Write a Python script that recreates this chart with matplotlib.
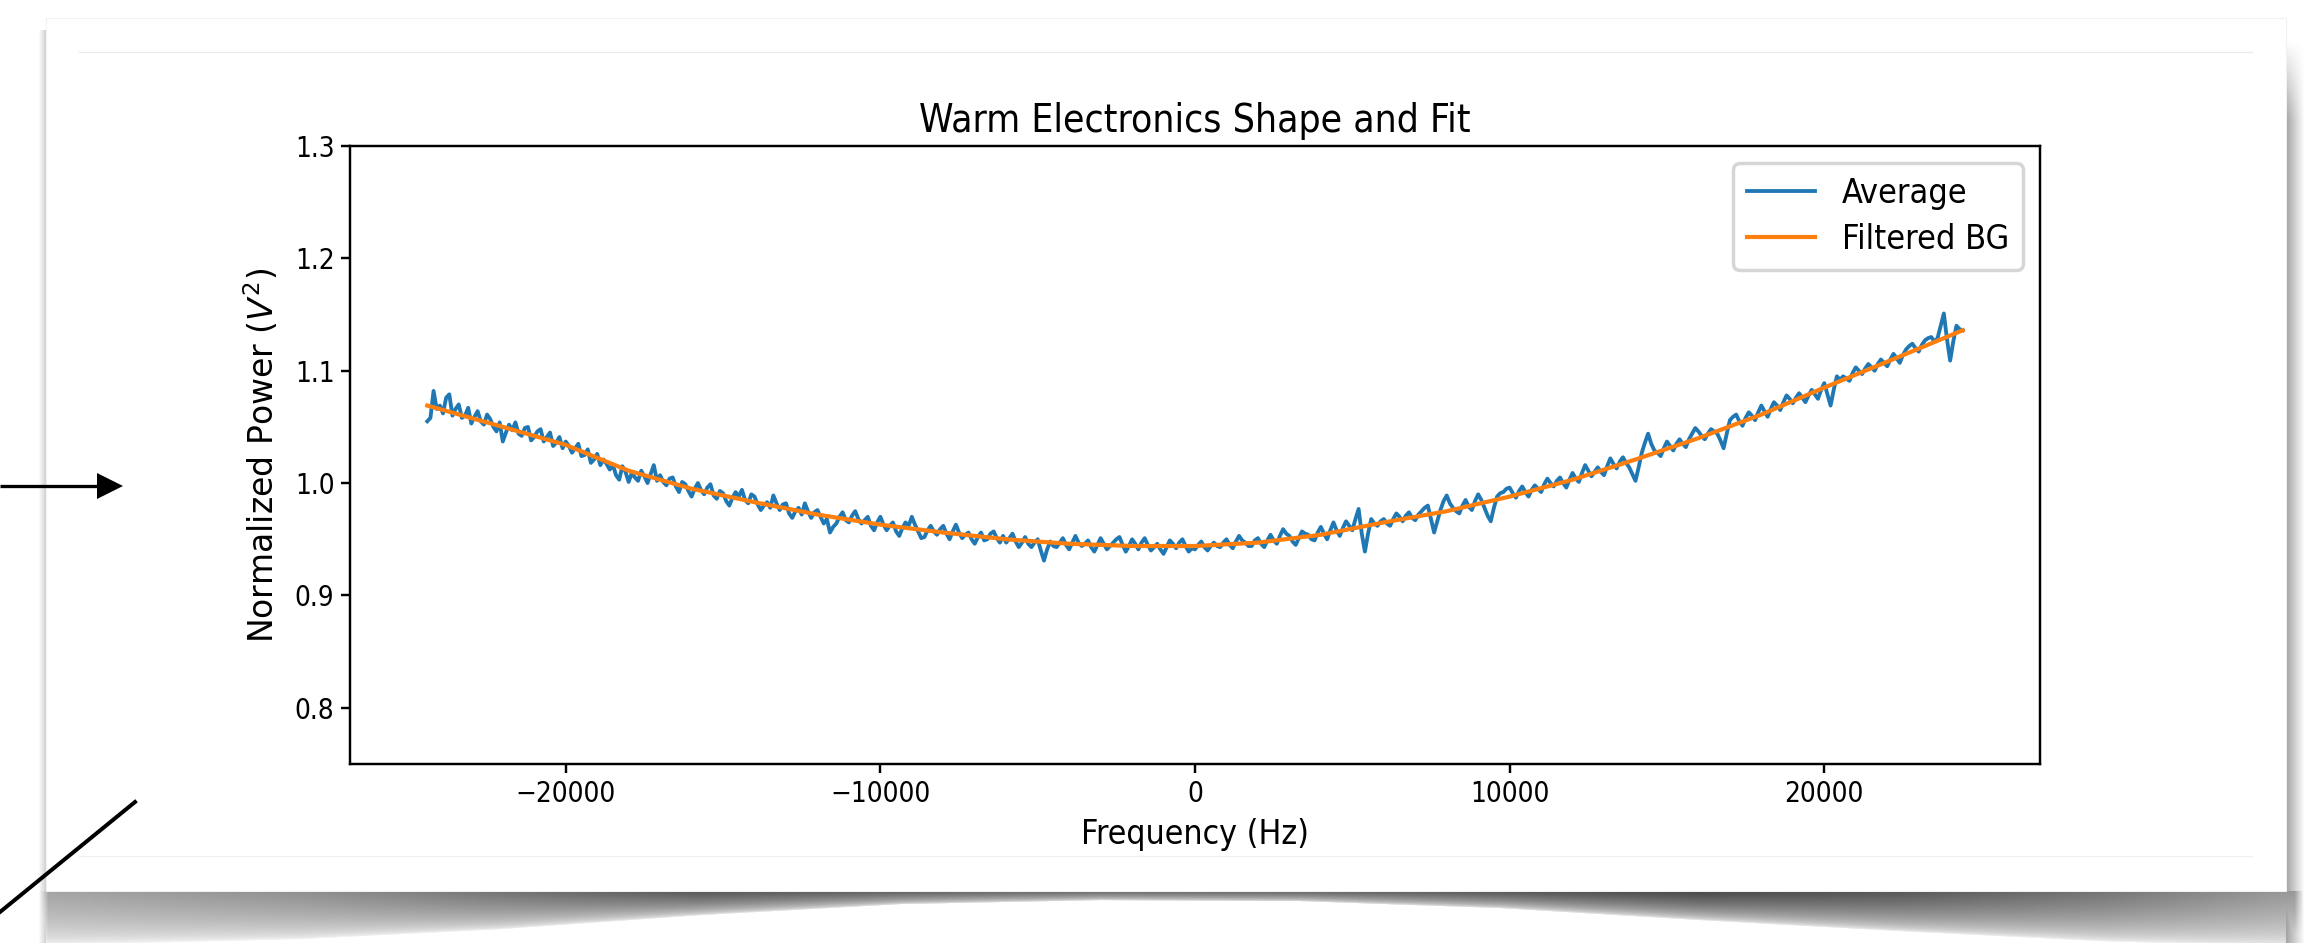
import numpy as np
import matplotlib
matplotlib.use("Agg")
import matplotlib.pyplot as plt
from matplotlib.patches import Rectangle, Polygon

# ---------------- data ----------------
freq_hz = np.arange(-244, 245) * 100.0   # -24400 ... 24400 Hz, 100 Hz bins

average = [
    # -24.4 .. -22.1 kHz
    1.055, 1.058, 1.082, 1.066, 1.069, 1.062, 1.076, 1.079, 1.060, 1.066,
    1.070, 1.058, 1.060, 1.067, 1.053, 1.059, 1.064, 1.055, 1.052, 1.061,
    1.057, 1.050, 1.046, 1.054,
    # -22.0 .. -20.1
    1.037, 1.045, 1.052, 1.047, 1.054, 1.044, 1.042, 1.049, 1.050, 1.038,
    1.041, 1.046, 1.048, 1.037, 1.041, 1.045, 1.033, 1.036, 1.041, 1.031,
    # -20.0 .. -18.1
    1.037, 1.033, 1.027, 1.031, 1.035, 1.024, 1.025, 1.030, 1.018, 1.021,
    1.026, 1.016, 1.021, 1.017, 1.012, 1.016, 1.007, 1.003, 1.015, 1.010,
    # -18.0 .. -16.1
    1.001, 1.009, 1.005, 1.002, 1.011, 1.006, 1.000, 1.008, 1.016, 1.002,
    1.007, 1.001, 0.998, 1.004, 1.005, 0.997, 0.992, 1.001, 0.999, 0.993,
    # -16.0 .. -14.1
    0.988, 0.995, 1.000, 0.994, 0.990, 0.996, 0.999, 0.989, 0.986, 0.993,
    0.991, 0.984, 0.980, 0.987, 0.992, 0.988, 0.994, 0.985, 0.982, 0.990,
    # -14.0 .. -12.1
    0.988, 0.981, 0.976, 0.980, 0.983, 0.978, 0.989, 0.982, 0.976, 0.981,
    0.982, 0.973, 0.969, 0.975, 0.978, 0.972, 0.982, 0.975, 0.969, 0.974,
    # -12.0 .. -10.1
    0.976, 0.970, 0.964, 0.968, 0.956, 0.961, 0.964, 0.970, 0.974, 0.967,
    0.965, 0.971, 0.975, 0.968, 0.964, 0.967, 0.970, 0.962, 0.958, 0.965,
    # -10.0 .. -8.1
    0.970, 0.963, 0.958, 0.962, 0.965, 0.957, 0.953, 0.960, 0.965, 0.962,
    0.970, 0.963, 0.957, 0.951, 0.952, 0.958, 0.962, 0.957, 0.954, 0.959,
    # -8.0 .. -6.1
    0.962, 0.955, 0.950, 0.957, 0.963, 0.956, 0.951, 0.954, 0.956, 0.950,
    0.946, 0.952, 0.956, 0.949, 0.950, 0.955, 0.957, 0.951, 0.947, 0.953,
    # -6.0 .. -4.1
    0.947, 0.951, 0.955, 0.948, 0.943, 0.947, 0.952, 0.946, 0.943, 0.947,
    0.950, 0.940, 0.931, 0.941, 0.948, 0.944, 0.943, 0.947, 0.951, 0.945,
    # -4.0 .. -2.1
    0.941, 0.947, 0.953, 0.947, 0.944, 0.946, 0.949, 0.943, 0.939, 0.945,
    0.951, 0.946, 0.941, 0.944, 0.947, 0.950, 0.952, 0.945, 0.939, 0.944,
    # -2.0 .. -0.1
    0.950, 0.946, 0.941, 0.947, 0.951, 0.945, 0.940, 0.943, 0.946, 0.941,
    0.937, 0.943, 0.949, 0.946, 0.942, 0.947, 0.950, 0.944, 0.939, 0.942,
    # 0.0 .. 1.9
    0.941, 0.945, 0.948, 0.943, 0.940, 0.944, 0.947, 0.944, 0.943, 0.947,
    0.950, 0.945, 0.942, 0.948, 0.953, 0.949, 0.947, 0.944, 0.944, 0.949,
    # 2.0 .. 3.9
    0.951, 0.946, 0.943, 0.949, 0.954, 0.949, 0.946, 0.953, 0.959, 0.955,
    0.953, 0.948, 0.945, 0.951, 0.957, 0.955, 0.954, 0.950, 0.949, 0.956,
    # 4.0 .. 5.9
    0.961, 0.955, 0.950, 0.958, 0.965, 0.958, 0.953, 0.960, 0.966, 0.962,
    0.958, 0.968, 0.977, 0.955, 0.939, 0.955, 0.968, 0.964, 0.962, 0.966,
    # 6.0 .. 7.9
    0.968, 0.964, 0.962, 0.968, 0.973, 0.970, 0.966, 0.971, 0.974, 0.969,
    0.967, 0.972, 0.975, 0.978, 0.980, 0.968, 0.956, 0.966, 0.976, 0.984,
    # 8.0 .. 9.9
    0.989, 0.982, 0.978, 0.975, 0.973, 0.980, 0.985, 0.979, 0.976, 0.984,
    0.990, 0.985, 0.978, 0.971, 0.966, 0.978, 0.988, 0.991, 0.992, 0.995,
    # 10.0 .. 11.9
    0.996, 0.991, 0.987, 0.993, 0.997, 0.992, 0.988, 0.994, 0.998, 0.995,
    0.992, 0.999, 1.004, 1.000, 0.997, 1.002, 1.005, 1.000, 0.996, 1.003,
    # 12.0 .. 13.9
    1.009, 1.004, 1.001, 1.009, 1.016, 1.011, 1.006, 1.010, 1.014, 1.010,
    1.007, 1.015, 1.022, 1.017, 1.013, 1.019, 1.023, 1.018, 1.014, 1.008,
    # 14.0 .. 15.9
    1.002, 1.014, 1.027, 1.036, 1.044, 1.035, 1.029, 1.027, 1.024, 1.031,
    1.037, 1.033, 1.029, 1.035, 1.039, 1.035, 1.032, 1.039, 1.044, 1.049,
    # 16.0 .. 17.9
    1.046, 1.042, 1.039, 1.044, 1.048, 1.046, 1.044, 1.038, 1.031, 1.044,
    1.056, 1.059, 1.061, 1.055, 1.051, 1.058, 1.063, 1.060, 1.056, 1.063,
    # 18.0 .. 19.9
    1.069, 1.064, 1.059, 1.066, 1.072, 1.069, 1.065, 1.072, 1.078, 1.075,
    1.071, 1.076, 1.080, 1.076, 1.072, 1.078, 1.083, 1.079, 1.075, 1.083,
    # 20.0 .. 21.9
    1.089, 1.079, 1.069, 1.083, 1.095, 1.092, 1.095, 1.093, 1.091, 1.098,
    1.103, 1.100, 1.097, 1.102, 1.106, 1.103, 1.100, 1.106, 1.110, 1.107,
    # 22.0 .. 24.4
    1.104, 1.110, 1.115, 1.111, 1.107, 1.114, 1.119, 1.122, 1.124, 1.120,
    1.117, 1.123, 1.127, 1.129, 1.130, 1.126, 1.129, 1.140, 1.151, 1.128,
    1.109, 1.126, 1.140, 1.137, 1.136,
]

fit_freq_hz = [-24400, -22000, -20000, -18000, -16000, -14000, -12000, -10000,
               -8000, -6000, -4000, -2000, 0, 2000, 4000, 6000, 8000, 10000,
               12000, 14000, 16000, 18000, 20000, 22000, 24400]
filtered_bg = [1.069, 1.050, 1.034, 1.011, 0.995, 0.983, 0.972, 0.963,
               0.956, 0.950, 0.946, 0.944, 0.944, 0.947, 0.954, 0.965, 0.975, 0.988,
               1.003, 1.021, 1.040, 1.061, 1.085, 1.108, 1.136]

title = "Warm Electronics Shape and Fit"
xlabel = "Frequency (Hz)"
ylabel = "Normalized Power ($V^2$)"
legend_labels = ["Average", "Filtered BG"]

# ---------------- figure ----------------
W, H = 2315, 943
DPI = 250
fig = plt.figure(figsize=(W / DPI, H / DPI), dpi=DPI)
fig.patch.set_facecolor("white")

bg = fig.add_axes([0, 0, 1, 1], zorder=0)
bg.set_xlim(0, W)
bg.set_ylim(H, 0)
bg.axis("off")

card_l, card_t, card_r, card_b = 46, 18, 2286, 891

yy, xx = np.mgrid[0:H, 0:W].astype(float)
# bottom curled shadow: darkness and depth vary along x
kx = [46, 300, 500, 700, 900, 1100, 1300, 1500, 1700, 1900, 2100, 2300]
ka = [0.36, 0.44, 0.55, 0.66, 0.62, 0.58, 0.60, 0.66, 0.72, 0.66, 0.55, 0.40]
kd = [54, 48, 38, 24, 13, 9, 10, 17, 29, 40, 50, 56]
xs = np.arange(W, dtype=float)
a_x = np.interp(xs, kx, ka)
d_x = np.interp(xs, kx, kd)
t = (yy - card_b) / d_x[None, :]
fall = np.clip(1 - t, 0, 1) ** 0.5
alpha = np.where((yy >= card_b) & (xx >= card_l - 6) & (xx <= 2302), a_x[None, :] * fall, 0)
alpha *= np.clip((xx - (card_l - 8)) / 10.0, 0, 1) * np.clip((2304 - xx) / 10.0, 0, 1)
# right side shadow
rs = np.where((xx >= card_r) & (yy >= 40),
              0.36 * np.clip(1 - (xx - card_r) / 18.0, 0, 1) * np.clip((yy - 40) / 80.0, 0, 1), 0)
alpha = np.maximum(alpha, rs)
# faint left side shadow
ls = np.where((xx >= 38) & (xx < card_l) & (yy >= 30),
              0.2 * np.clip((xx - 38) / 8.0, 0, 1), 0)
alpha = np.maximum(alpha, ls)
rgba = np.zeros((H, W, 4))
rgba[..., :3] = 0.0
rgba[..., 3] = np.clip(alpha, 0, 1)
bg.imshow(rgba, extent=(0, W, H, 0), interpolation="nearest", zorder=1, aspect="auto")

bg.add_patch(Rectangle((card_l, card_t), card_r - card_l, card_b - card_t,
                       facecolor="white", edgecolor="#f2f2f2", linewidth=0.3, zorder=2))
bg.plot([79, 2252], [52, 52], color="#ebebeb", linewidth=0.35, zorder=3)
bg.plot([79, 2252], [856, 856], color="#f0f0f0", linewidth=0.35, zorder=3)

# annotation arrows at left
bg.plot([0, 100], [486, 486], color="black", linewidth=0.95, zorder=5, solid_capstyle="butt")
bg.add_patch(Polygon([[97, 473], [123, 486], [97, 499]], closed=True,
                     facecolor="black", edgecolor="none", zorder=5))
bg.plot([0, 135], [912, 802], color="black", linewidth=1.15, zorder=5)

# ---------------- chart ----------------
cond = dict(fontstretch="condensed")
ax = fig.add_axes([350 / W, 1 - 764 / H, (2040 - 350) / W, (764 - 146) / H], zorder=2)
ax.plot(freq_hz, average, color="#1f77b4", linewidth=1.1, label=legend_labels[0])
ax.plot(fit_freq_hz, filtered_bg, color="#ff7f0e", linewidth=1.2, label=legend_labels[1])

ax.set_xlim(-26856, 26856)
ax.set_ylim(0.75, 1.3)
ax.set_yticks([0.8, 0.9, 1.0, 1.1, 1.2, 1.3])
ax.set_xticks([-20000, -10000, 0, 10000, 20000])
ax.tick_params(length=2.7, width=0.7, pad=1.8)
for lab in ax.get_xticklabels() + ax.get_yticklabels():
    lab.set_fontsize(8.0)
    lab.set_fontstretch("condensed")
for sp in ax.spines.values():
    sp.set_linewidth(0.7)
ax.set_title(title, fontsize=11.2, pad=4, **cond)
ax.set_xlabel(xlabel, fontsize=9.7, labelpad=3, **cond)
ax.set_ylabel(ylabel, fontsize=9.5, labelpad=4)
leg = ax.legend(loc="upper right", prop=dict(size=9.8, stretch="condensed"),
                labelspacing=0.4)

fig.savefig("out.png", dpi=DPI)
